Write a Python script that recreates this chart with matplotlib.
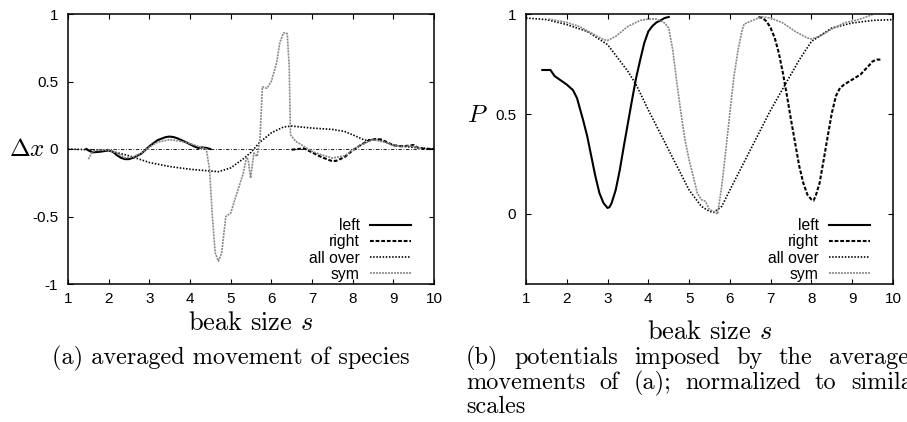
import matplotlib
matplotlib.use("Agg")
import matplotlib.pyplot as plt

# ---------------------------------------------------------
# Style
# ---------------------------------------------------------
plt.rcParams.update({
    'font.family': 'Liberation Sans',
    'font.size': 11,
    'mathtext.fontset': 'cm',
    'axes.unicode_minus': False,
    'axes.linewidth': 1.1,
    'xtick.direction': 'in',
    'ytick.direction': 'in',
    'xtick.top': True,
    'ytick.right': True,
    'xtick.major.size': 3.5,
    'ytick.major.size': 3.5,
    'xtick.major.pad': 5.5,
    'ytick.major.pad': 7,
})

# ---------------------------------------------------------
# Data
# ---------------------------------------------------------
x_ticks = [1, 2, 3, 4, 5, 6, 7, 8, 9, 10]
x_tick_labels = ['1', '2', '3', '4', '5', '6', '7', '8', '9', '10']
dx_ticks = [-1, -0.5, 0, 0.5, 1]
dx_tick_labels = ['-1', '-0.5', '0', '0.5', '1']
p_ticks = [0, 0.5, 1]
p_tick_labels = ['0', '0.5', '1']
series_names = ['left', 'right', 'all over', 'sym']

# (a) averaged movement
left_s = [1.45, 1.5, 1.6, 1.8, 2.0, 2.1, 2.2, 2.3, 2.4, 2.5, 2.6, 2.8, 3.0, 3.2,
          3.4, 3.5, 3.6, 3.7, 3.9, 4.1, 4.2, 4.3, 4.4, 4.5]
left_dx = [0.0, -0.01, -0.025, -0.02, -0.01, -0.02, -0.045, -0.065, -0.075, -0.075,
           -0.065, -0.035, 0.02, 0.065, 0.088, 0.092, 0.088, 0.078, 0.05, 0.02,
           0.008, 0.012, 0.008, 0.0]

right_s = [6.5, 6.6, 6.8, 7.0, 7.2, 7.4, 7.5, 7.6, 7.8, 8.0, 8.2, 8.4, 8.6, 8.7,
           8.8, 9.0, 9.2, 9.4, 9.5, 9.6, 9.8, 10.0]
right_dx = [-0.005, -0.002, 0.005, -0.025, -0.055, -0.08, -0.09, -0.087, -0.06,
            -0.01, 0.03, 0.065, 0.075, 0.07, 0.057, 0.027, 0.02, 0.025, 0.03,
            0.01, 0.0, 0.0]

all_s = [1.0, 1.5, 2.0, 2.5, 3.0, 3.5, 4.0, 4.5, 4.7, 5.0, 5.3, 5.5, 5.7, 6.0,
         6.3, 6.5, 7.0, 7.5, 7.8, 8.0, 8.3, 8.6, 9.0, 9.5, 10.0]
all_dx = [0.0, -0.005, -0.012, -0.05, -0.10, -0.13, -0.15, -0.163, -0.168, -0.14,
          -0.075, -0.025, 0.045, 0.12, 0.163, 0.17, 0.155, 0.145, 0.13, 0.105,
          0.065, 0.072, 0.028, 0.012, 0.0]

sym_s = [1.5, 1.6, 1.7, 2.0, 2.2, 2.4, 2.6, 2.8, 3.0, 3.2, 3.5, 3.8, 4.0, 4.2,
         4.4, 4.48, 4.55, 4.62, 4.7, 4.78, 4.88, 5.0, 5.14, 5.31, 5.39, 5.43,
         5.49, 5.57, 5.65, 5.72, 5.78, 5.89, 6.0, 6.13, 6.21, 6.3, 6.39, 6.44,
         6.47, 6.6, 6.8, 7.0, 7.2, 7.5, 7.8, 8.0, 8.2, 8.5, 8.8, 9.0, 9.2, 9.4,
         9.5, 9.7]
sym_dx = [-0.075, -0.02, -0.01, -0.008, -0.03, -0.065, -0.06, -0.03, 0.015, 0.05,
          0.07, 0.055, 0.04, 0.02, 0.0, -0.15, -0.5, -0.77, -0.83, -0.77, -0.5,
          -0.475, -0.34, -0.18, -0.06, -0.08, -0.215, -0.03, -0.055, 0.07, 0.46,
          0.45, 0.5, 0.64, 0.79, 0.86, 0.856, 0.61, 0.106, 0.057, 0.02, -0.017,
          -0.04, -0.067, -0.05, -0.01, 0.03, 0.068, 0.05, 0.025, 0.018, 0.022,
          0.02, 0.0]

# (b) potentials
pleft_s = [1.4, 1.6, 1.7, 2.0, 2.15, 2.25, 2.4, 2.5, 2.6, 2.7, 2.8, 2.9, 3.0, 3.05,
           3.1, 3.2, 3.3, 3.4, 3.5, 3.6, 3.7, 3.8, 3.9, 4.0, 4.1, 4.2, 4.3, 4.4, 4.5]
pleft = [0.72, 0.72, 0.69, 0.647, 0.62, 0.58, 0.47, 0.39, 0.29, 0.19, 0.105, 0.055,
         0.03, 0.035, 0.055, 0.12, 0.22, 0.34, 0.455, 0.57, 0.68, 0.77, 0.855,
         0.913, 0.94, 0.958, 0.968, 0.98, 0.985]

pright_s = [6.7, 6.8, 6.9, 7.0, 7.1, 7.2, 7.3, 7.4, 7.5, 7.6, 7.7, 7.8, 7.9, 8.0,
            8.05, 8.1, 8.2, 8.3, 8.4, 8.5, 8.6, 8.7, 8.8, 9.0, 9.2, 9.4, 9.5, 9.6, 9.7]
pright = [0.985, 0.98, 0.963, 0.93, 0.88, 0.805, 0.705, 0.59, 0.47, 0.355, 0.24,
          0.155, 0.097, 0.072, 0.067, 0.088, 0.155, 0.27, 0.39, 0.505, 0.59, 0.63,
          0.647, 0.672, 0.697, 0.74, 0.763, 0.772, 0.772]

pall_s = [1, 1.5, 2, 2.5, 3, 3.5, 3.7, 4, 4.5, 5, 5.3, 5.5, 5.6, 5.8, 6, 6.5, 7,
          7.4, 7.7, 8, 8.5, 9, 9.5, 10]
pall = [0.98, 0.972, 0.947, 0.913, 0.847, 0.713, 0.647, 0.52, 0.32, 0.12, 0.038,
        0.013, 0.008, 0.038, 0.12, 0.32, 0.52, 0.663, 0.77, 0.863, 0.93, 0.955,
        0.968, 0.972]

psym_s = [1.55, 2.0, 2.3, 2.6, 2.9, 3.0, 3.2, 3.5, 3.8, 4.0, 4.2, 4.4, 4.5, 4.6,
          4.7, 4.8, 4.9, 5.0, 5.1, 5.2, 5.3, 5.4, 5.5, 5.6, 5.7, 5.75, 5.8, 5.9,
          6.0, 6.1, 6.2, 6.3, 6.35, 6.5, 6.7, 6.8, 7.0, 7.3, 7.6, 7.9, 8.0, 8.2,
          8.5, 8.8, 9.2, 9.5]
psym = [0.975, 0.958, 0.938, 0.905, 0.872, 0.868, 0.888, 0.938, 0.968, 0.975,
        0.975, 0.955, 0.93, 0.82, 0.655, 0.505, 0.37, 0.27, 0.19, 0.105, 0.072,
        0.063, 0.022, 0.013, 0.0, 0.07, 0.138, 0.32, 0.505, 0.688, 0.82, 0.92,
        0.95, 0.963, 0.98, 0.985, 0.98, 0.955, 0.913, 0.88, 0.875, 0.888, 0.925,
        0.955, 0.975, 0.997]

# ---------------------------------------------------------
# Line styles (gnuplot-like)
# ---------------------------------------------------------
styles = [
    dict(color='black', lw=1.5, ls='-'),
    dict(color='black', lw=1.5, dashes=(1.8, 0.9)),
    dict(color='black', lw=1.2, dashes=(0.9, 1.0)),
    dict(color='#888888', lw=1.2, dashes=(1.2, 0.6)),
]

cm_font = dict(family='cmr10')

fig = plt.figure(figsize=(9.07, 4.22), dpi=100)
ax1 = fig.add_axes([68 / 907, 1 - 284 / 422, 366 / 907, 270 / 422])
ax2 = fig.add_axes([526 / 907, 1 - 284 / 422, 367 / 907, 270 / 422])

# zero axis on (a)
ax1.axhline(0, color='black', lw=0.6, dashes=(4, 2, 1, 2))

for (s, v), name, st in zip([(left_s, left_dx), (right_s, right_dx),
                             (all_s, all_dx), (sym_s, sym_dx)], series_names, styles):
    ax1.plot(s, v, label=name, **st)

for (s, v), name, st in zip([(pleft_s, pleft), (pright_s, pright),
                             (pall_s, pall), (psym_s, psym)], series_names, styles):
    ax2.plot(s, v, label=name, **st)

ax1.set_ylim(-1, 1)
ax2.set_ylim(-0.35, 1)
ax1.set_yticks(dx_ticks)
ax1.set_yticklabels(dx_tick_labels)
ax2.set_yticks(p_ticks)
ax2.set_yticklabels(p_tick_labels)

for ax in (ax1, ax2):
    ax.set_xlim(1, 10)
    ax.set_xticks(x_ticks)
    ax.set_xticklabels(x_tick_labels)
    ax.legend(loc='lower right', markerfirst=False, frameon=False,
              bbox_to_anchor=(1 - 14 / 366, -0.026), borderaxespad=0.2,
              handlelength=2.6, handletextpad=0.65, labelspacing=0.07,
              fontsize=11.3)

ax1.set_xlabel('beak size $s$', fontsize=19, **cm_font)
ax1.xaxis.set_label_coords(0.5, -(323 - 284) / 270)
ax1.xaxis.label.set_va('center')
ax2.set_xlabel('beak size $s$', fontsize=19, **cm_font)
ax2.xaxis.set_label_coords(0.5, -(332 - 284) / 270)
ax2.xaxis.label.set_va('center')

ax1.set_ylabel(r'$\Delta x$', fontsize=18, rotation=0)
ax1.yaxis.set_label_coords((27 - 68) / 366, (284 - 149) / 270)
ax1.yaxis.label.set_va('center')
ax2.set_ylabel(r'$P$', fontsize=18, rotation=0)
ax2.yaxis.set_label_coords((477 - 526) / 367, (284 - 115) / 270)
ax2.yaxis.label.set_va('center')

# ---------------------------------------------------------
# Captions
# ---------------------------------------------------------
cap_size = 17.5
fig.text(231 / 907, 1 - 358 / 422, '(a) averaged movement of species',
         ha='center', va='center', fontsize=cap_size, **cm_font)


def justified_line(words, x0_px, x1_px, y_px):
    texts = [fig.text(0, 1 - y_px / 422, w, ha='left', va='center',
                      fontsize=cap_size, **cm_font) for w in words]
    renderer = fig.canvas.get_renderer()
    widths = [t.get_window_extent(renderer).width for t in texts]
    gap = (x1_px - x0_px - sum(widths)) / (len(words) - 1)
    x = x0_px
    for t, w in zip(texts, widths):
        t.set_x(x / 907)
        x += w + gap


justified_line(['(b)', 'potentials', 'imposed', 'by', 'the', 'averaged'], 466, 922, 358)
justified_line(['movements', 'of', '(a);', 'normalized', 'to', 'similar'], 466, 922, 383)
fig.text(466 / 907, 1 - 407 / 422, 'scales', ha='left', va='center',
         fontsize=cap_size, **cm_font)

fig.savefig('out.png', dpi=100)
